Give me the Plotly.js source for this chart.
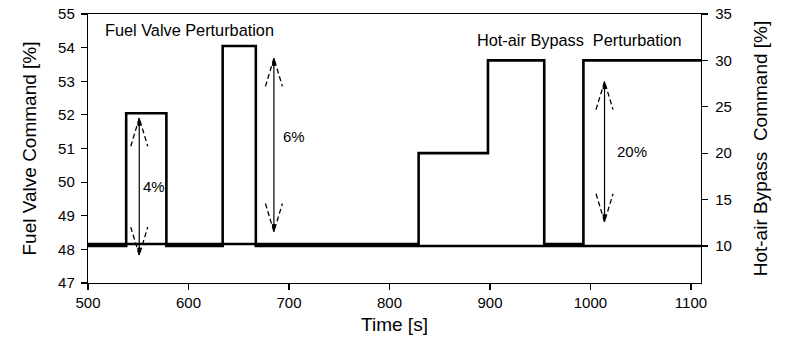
<!DOCTYPE html>
<html>
<head>
<meta charset="utf-8">
<script src="https://cdn.plot.ly/plotly-3.0.1.min.js"></script>
<style>html,body{margin:0;padding:0;background:#fff}#chart{width:793px;height:342px}</style>
</head>
<body>
<div id="chart"></div>
<script>
// Fuel valve command (left axis, %), step changes at these times
const fuelTime = [500, 538, 578, 634, 667, 1110];
const fuelValue = [48.1, 52.05, 48.1, 54.05, 48.1, 48.1];
// Hot-air bypass command (right axis, %)
const bypassTime = [500, 829, 898, 954, 993, 1110];
const bypassValue = [10.2, 20, 30, 10.2, 30, 30];

// Double-headed arrows (left-axis units)
const arrowX = [551, 685, 1014];
const arrowTop = [51.9, 53.68, 52.99];
const arrowBottom = [47.83, 48.53, 48.82];
// Arrow labels
const labelText = ['4%', '6%', '20%'];
const labelX = [553, 692, 1024];
const labelY = [49.86, 51.37, 50.9];
// Panel captions
const captionText = ['Fuel Valve Perturbation', 'Hot-air Bypass  Perturbation'];
const captionX = [515, 885];
const captionY = [54.52, 54.23];

const FONT = 'Liberation Sans, Arial, sans-serif';

const traces = [
  {x: fuelTime, y: fuelValue, type: 'scatter', mode: 'lines', line: {shape: 'hv', color: '#000', width: 2.6}, yaxis: 'y', hoverinfo: 'skip'},
  {x: bypassTime, y: bypassValue, type: 'scatter', mode: 'lines', line: {shape: 'hv', color: '#000', width: 2.6}, yaxis: 'y2', hoverinfo: 'skip'}
];

const shapes = [];
arrowX.forEach((x, i) => {
  shapes.push({type: 'line', xref: 'x', yref: 'y', x0: x, x1: x, y0: arrowBottom[i], y1: arrowTop[i], line: {color: '#000', width: 1.2}});
  // top head
  shapes.push({type: 'path', xref: 'x', yref: 'y', xsizemode: 'pixel', ysizemode: 'pixel', xanchor: x, yanchor: arrowTop[i],
    path: 'M-8.5,-28 L0,0 L8.5,-28', line: {color: '#000', width: 1.3, dash: '5px,3px'}});
  shapes.push({type: 'path', xref: 'x', yref: 'y', xsizemode: 'pixel', ysizemode: 'pixel', xanchor: x, yanchor: arrowTop[i],
    path: 'M-1.6,-7 L0,0 L1.6,-7 Z', fillcolor: '#000', line: {color: '#000', width: 1}});
  // bottom head
  shapes.push({type: 'path', xref: 'x', yref: 'y', xsizemode: 'pixel', ysizemode: 'pixel', xanchor: x, yanchor: arrowBottom[i],
    path: 'M-8.5,28 L0,0 L8.5,28', line: {color: '#000', width: 1.3, dash: '5px,3px'}});
  shapes.push({type: 'path', xref: 'x', yref: 'y', xsizemode: 'pixel', ysizemode: 'pixel', xanchor: x, yanchor: arrowBottom[i],
    path: 'M-1.6,7 L0,0 L1.6,7 Z', fillcolor: '#000', line: {color: '#000', width: 1}});
});

const annotations = [];
labelText.forEach((t, i) => annotations.push({x: labelX[i], y: labelY[i], xref: 'x', yref: 'y', text: t, showarrow: false, xanchor: 'left', yanchor: 'middle', font: {family: FONT, size: 15, color: '#000'}}));
captionText.forEach((t, i) => annotations.push({x: captionX[i], y: captionY[i], xref: 'x', yref: 'y', text: t.replace(/  /g, ' &nbsp;'), showarrow: false, xanchor: 'left', yanchor: 'middle', font: {family: FONT, size: 16.3, color: '#000'}}));

const axisCommon = {showgrid: false, zeroline: false, showline: true, linecolor: '#000', linewidth: 1.2, ticks: 'outside', ticklen: 6, tickwidth: 1.2, tickcolor: '#000', tickfont: {family: FONT, size: 15, color: '#000'}};

const layout = {
  width: 793, height: 342,
  margin: {l: 88, r: 92, t: 14, b: 59, pad: 0},
  paper_bgcolor: '#fff', plot_bgcolor: '#fff',
  showlegend: false,
  xaxis: Object.assign({}, axisCommon, {range: [500, 1110], tickvals: [500, 600, 700, 800, 900, 1000, 1100], mirror: true,
    title: {text: 'Time [s]', font: {family: FONT, size: 19, color: '#000'}, standoff: 7}}),
  yaxis: Object.assign({}, axisCommon, {range: [47, 55], dtick: 1, ticklabelstandoff: 3,
    title: {text: 'Fuel Valve Command [%]', font: {family: FONT, size: 19, color: '#000'}, standoff: 16}}),
  yaxis2: Object.assign({}, axisCommon, {range: [6, 35], tickvals: [10, 15, 20, 25, 30, 35], overlaying: 'y', side: 'right', ticklabelstandoff: 4,
    title: {text: 'Hot-air Bypass &nbsp;Command [%]', font: {family: FONT, size: 19, color: '#000'}, standoff: 22}}),
  shapes: shapes,
  annotations: annotations
};

Plotly.newPlot('chart', traces, layout, {staticPlot: true, displayModeBar: false});
</script>
</body>
</html>
